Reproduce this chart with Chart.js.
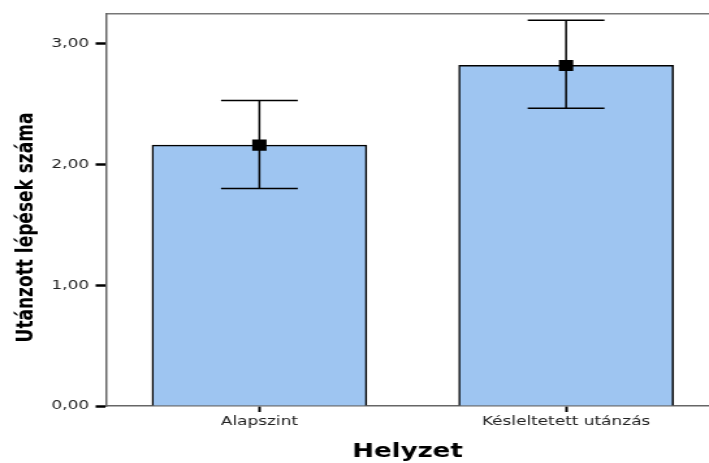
<!DOCTYPE html>
<html>
<head>
<meta charset="utf-8">
<style>
html,body{margin:0;padding:0;background:#fff;overflow:hidden}
#c{display:block}
</style>
</head>
<body>
<canvas id="c" width="545" height="463" style="width:709px;height:463px"></canvas>
<script src="https://cdn.jsdelivr.net/npm/chart.js@4/dist/chart.umd.min.js"></script>
<script>
// ---- data ----
const categories = ['Alapszint', 'Késleltetett utánzás'];
const means = [2.16, 2.82];
const errLow = [1.80, 2.465];
const errHigh = [2.53, 3.195];
const yTicks = [0, 1, 2, 3];
const yTickLabels = ['0,00', '1,00', '2,00', '3,00'];
const xTitle = 'Helyzet';
const yTitle = 'Utánzott lépések száma';

Chart.defaults.font.family = 'DejaVu Sans';

const errorBars = {
  id: 'errorBars',
  afterDatasetDraw(chart, args) {
    if (args.index !== 1) return;
    const {ctx, scales: {x, y}} = chart;
    ctx.save();
    ctx.strokeStyle = '#000';
    ctx.lineWidth = 1.5;
    const half = 29.5;
    means.forEach((m, i) => {
      const px = x.getPixelForValue(i + 1);
      const pLo = y.getPixelForValue(errLow[i]);
      const pHi = y.getPixelForValue(errHigh[i]);
      ctx.beginPath();
      ctx.moveTo(px, pLo); ctx.lineTo(px, pHi);
      ctx.moveTo(px - half, pHi); ctx.lineTo(px + half, pHi);
      ctx.moveTo(px - half, pLo); ctx.lineTo(px + half, pLo);
      ctx.stroke();
    });
    ctx.restore();
  }
};

const points = means.map((v, i) => ({x: i + 1, y: v}));

new Chart(document.getElementById('c'), {
  type: 'bar',
  data: {
    datasets: [
      {
        type: 'scatter',
        data: points,
        pointStyle: 'rect',
        radius: 7.8,
        hoverRadius: 7.8,
        backgroundColor: '#000',
        borderColor: '#000',
        borderWidth: 0
      },
      {
        type: 'bar',
        data: points,
        backgroundColor: '#9ec5f1',
        borderColor: '#000',
        borderWidth: 1.5,
        barThickness: 165
      }
    ]
  },
  options: {
    responsive: false,
    devicePixelRatio: 1,
    animation: false,
    layout: {autoPadding: false, padding: {top: 0, left: 0, right: 0, bottom: 8}},
    plugins: {
      legend: {display: false},
      tooltip: {enabled: false},
      title: {
        display: true,
        position: 'left',
        text: yTitle,
        color: '#000',
        font: {family: 'DejaVu Sans', size: 17, weight: 'bold', lineHeight: 1.2},
        padding: {top: 10.2, bottom: 0}
      }
    },
    scales: {
      x: {
        type: 'linear',
        position: 'bottom',
        offset: false,
        min: 0.5,
        max: 2.466,
        afterBuildTicks: s => { s.ticks = categories.map((c, i) => ({value: i + 1})); },
        ticks: {
          callback: v => categories[v - 1] ?? '',
          font: {family: 'DejaVu Sans', size: 13},
          color: '#222',
          padding: 2,
          maxRotation: 0,
          autoSkip: false
        },
        grid: {display: true, offset: false, drawOnChartArea: false, drawTicks: true, tickLength: 6, tickWidth: 2, tickColor: '#000'},
        border: {display: true, color: '#666', width: 1.5},
        title: {
          display: true,
          text: xTitle,
          color: '#000',
          font: {family: 'DejaVu Sans', size: 20, weight: 'bold', lineHeight: 0.3},
          padding: {top: 0, bottom: 0}
        },
        afterFit: s => { s.height = 49; s.paddingLeft = 0; s.paddingRight = 0; }
      },
      x2: {
        type: 'linear',
        position: 'top',
        offset: false,
        min: 0.5,
        max: 2.466,
        ticks: {display: false},
        grid: {display: false, offset: false, drawTicks: false},
        border: {display: true, color: '#777', width: 1.5},
        afterFit: s => { s.height = 0; s.paddingLeft = 0; s.paddingRight = 0; }
      },
      y: {
        min: 0,
        max: 3.25,
        afterBuildTicks: s => { s.ticks = yTicks.map(v => ({value: v})); },
        ticks: {
          callback: v => yTickLabels[yTicks.indexOf(v)],
          font: {family: 'DejaVu Sans', size: 13},
          color: '#222',
          padding: 5
        },
        grid: {display: true, drawOnChartArea: false, drawTicks: true, tickLength: 8, tickWidth: 2.5, tickColor: '#000'},
        border: {display: true, color: '#666', width: 1.5},
        afterFit: s => { s.width = 50.9; s.paddingTop = 13.5; }
      }
    }
  },
  plugins: [errorBars]
});
</script>
</body>
</html>
